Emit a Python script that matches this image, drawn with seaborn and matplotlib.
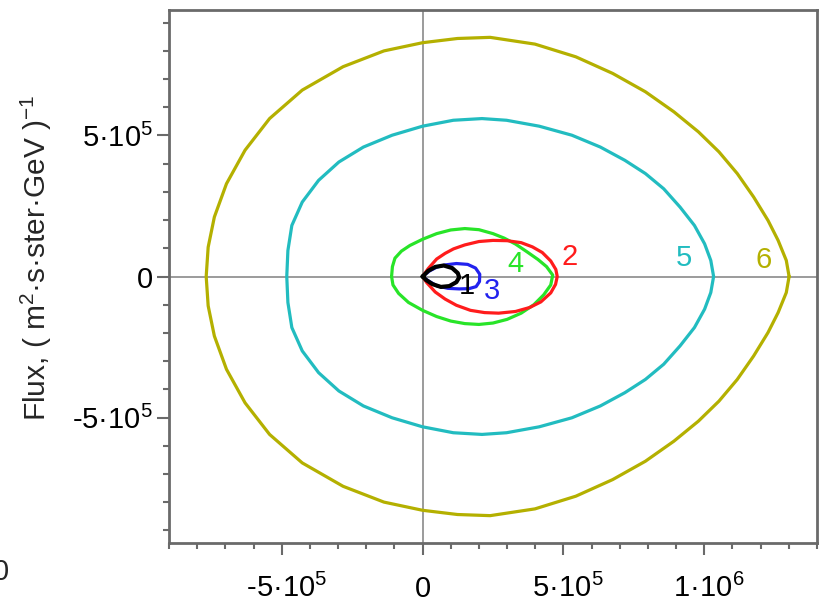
import matplotlib
matplotlib.use("Agg")
import matplotlib.pyplot as plt
from matplotlib.ticker import FixedLocator, MultipleLocator
import pandas as pd
import seaborn as sns

# All curve coordinates are given in units of 1e5.
SCALE = 1e5

# Curve 6: upper half, from the right tip round to the left tip
c6_x = [13.01, 12.91, 12.62, 12.26, 11.75, 11.17, 10.52, 9.79, 8.92, 7.91, 6.75,
        5.44, 3.99, 2.40, 1.24, 0.00, -1.37, -2.82, -4.27, -5.43, -6.30, -6.96,
        -7.39, -7.61, -7.68]
c6_y = [0.00, 0.57, 1.28, 1.99, 2.82, 3.65, 4.42, 5.13, 5.84, 6.55, 7.20,
        7.79, 8.24, 8.48, 8.44, 8.29, 8.00, 7.44, 6.61, 5.60, 4.48, 3.29,
        2.11, 1.04, 0.00]

# Curve 5: upper half, from the right tip round to the left tip
c5_x = [10.33, 10.23, 10.01, 9.65, 9.14, 8.56, 7.91, 7.18, 6.31, 5.30, 4.14,
        2.98, 2.11, 1.09, 0.00, -1.08, -2.10, -2.97, -3.69, -4.27, -4.64,
        -4.78, -4.82]
c5_y = [0.00, 0.57, 1.16, 1.81, 2.46, 3.11, 3.65, 4.12, 4.59, 5.01, 5.33,
        5.54, 5.60, 5.54, 5.33, 5.01, 4.59, 4.06, 3.41, 2.64, 1.81, 0.92, 0.00]

# Curve 4: full loop
c4_x = [-1.10, -1.07, -0.98, -0.75, -0.45, 0.00, 0.50, 1.00, 1.50, 2.00, 2.50,
        2.90, 3.30, 3.70, 4.10, 4.40, 4.62, 4.55, 4.30, 3.95, 3.50, 3.00, 2.50,
        2.00, 1.50, 1.00, 0.50, 0.00, -0.50, -0.85, -1.05, -1.10]
c4_y = [0.00, 0.35, 0.65, 0.90, 1.10, 1.32, 1.52, 1.65, 1.70, 1.66, 1.52,
        1.36, 1.15, 0.88, 0.60, 0.35, 0.05, -0.30, -0.65, -1.00, -1.30, -1.52,
        -1.65, -1.70, -1.67, -1.58, -1.42, -1.20, -0.92, -0.60, -0.30, 0.00]

# Curve 2: full loop
c2_x = [0.00, 0.20, 0.50, 0.80, 1.10, 1.50, 2.00, 2.50, 3.00, 3.50, 3.90, 4.25,
        4.55, 4.73, 4.78, 4.72, 4.55, 4.20, 3.80, 3.30, 2.70, 2.20, 1.70, 1.20,
        0.80, 0.45, 0.15, 0.00]
c2_y = [0.00, 0.28, 0.62, 0.82, 0.98, 1.12, 1.24, 1.28, 1.27, 1.20, 1.05, 0.85,
        0.55, 0.25, 0.00, -0.28, -0.58, -0.90, -1.10, -1.24, -1.30, -1.28, -1.20,
        -1.02, -0.80, -0.55, -0.22, 0.00]

# Curve 3: full loop
c3_x = [0.00, 0.25, 0.50, 0.80, 1.20, 1.60, 1.88, 2.03, 2.02, 1.90, 1.65, 1.30,
        0.90, 0.50, 0.20, 0.00]
c3_y = [0.00, 0.20, 0.33, 0.41, 0.46, 0.43, 0.30, 0.08, -0.18, -0.36, -0.43,
        -0.44, -0.42, -0.33, -0.15, 0.00]

# Curve 1: full loop
c1_x = [0.00, 0.20, 0.45, 0.75, 1.05, 1.25, 1.30, 1.20, 0.95, 0.65, 0.35, 0.12, 0.00]
c1_y = [0.00, 0.20, 0.34, 0.39, 0.30, 0.12, -0.03, -0.20, -0.34, -0.37, -0.27, -0.12, 0.00]

curve_names = ["6", "5", "4", "2", "3", "1"]
curve_colors = {"6": "#b4b000", "5": "#22bcc0", "4": "#28e428",
                "2": "#ff1c1c", "3": "#2222ee", "1": "#000000"}
curve_widths = {"6": 2.3, "5": 2.3, "4": 2.3, "2": 2.3, "3": 2.3, "1": 3.0}

# Curve number labels (units of 1e5)
label_names = ["1", "3", "4", "2", "5", "6"]
label_x = [1.58, 2.45, 3.31, 5.23, 9.28, 12.09]
label_y = [-0.32, -0.53, 0.45, 0.69, 0.66, 0.59]

x_limits = [-9e5, 14e5]
y_limits = [-9.45e5, 9.45e5]
x_ticks = [-5e5, 0, 5e5, 1e6]
x_tick_labels = ["$\\:\\,$-5·10$^5$", "0", "$\\:\\,$5·10$^5$", "$\\:\\,$1·10$^6$"]
y_ticks = [-5e5, 0, 5e5]
y_tick_labels = ["-5·10$^5$", "0$\\enspace\\,$", "5·10$^5$"]
minor_step = 1e5


def mirrored(ux, uy):
    xs = list(ux) + list(ux[::-1][1:])
    ys = list(uy) + [-v for v in uy[::-1][1:]]
    return xs, ys


loops = {
    "6": mirrored(c6_x, c6_y),
    "5": mirrored(c5_x, c5_y),
    "4": (c4_x, c4_y),
    "2": (c2_x, c2_y),
    "3": (c3_x, c3_y),
    "1": (c1_x, c1_y),
}

frames = []
for name in curve_names:
    xs, ys = loops[name]
    frames.append(pd.DataFrame({"x": [v * SCALE for v in xs],
                                "y": [v * SCALE for v in ys],
                                "curve": name}))
df = pd.concat(frames, ignore_index=True)

sns.set_style("ticks")
plt.rcParams["font.family"] = ["Liberation Sans", "DejaVu Sans"]
plt.rcParams["mathtext.fontset"] = "custom"
plt.rcParams["mathtext.rm"] = "Liberation Sans"
plt.rcParams["mathtext.it"] = "Liberation Sans:italic"
plt.rcParams["mathtext.bf"] = "Liberation Sans:bold"

FS = 21
spine_color = "#6a6a6a"
major_len = 8.5

fig = plt.figure(figsize=(8.26, 6.04), dpi=100)
ax = fig.add_axes([169 / 826, 61 / 604, 648 / 826, 533 / 604])

ax.axhline(0, color="#8a8a8a", lw=1.2, zorder=1)
ax.axvline(0, color="#8a8a8a", lw=1.2, zorder=1)

for name in curve_names:
    sub = df[df["curve"] == name]
    sns.lineplot(data=sub, x="x", y="y", sort=False, estimator=None,
                 color=curve_colors[name], linewidth=curve_widths[name],
                 solid_joinstyle="round", solid_capstyle="round",
                 ax=ax, legend=False, zorder=3)

for name, lx, ly in zip(label_names, label_x, label_y):
    ax.text(lx * SCALE, ly * SCALE, name, color=curve_colors[name],
            fontsize=FS, ha="center", va="center", zorder=4)

ax.set_xlim(*x_limits)
ax.set_ylim(*y_limits)
ax.xaxis.set_major_locator(FixedLocator(x_ticks))
ax.yaxis.set_major_locator(FixedLocator(y_ticks))
ax.xaxis.set_minor_locator(MultipleLocator(minor_step))
ax.yaxis.set_minor_locator(MultipleLocator(minor_step))
ax.set_xticklabels(x_tick_labels)
ax.set_yticklabels(y_tick_labels)

ax.tick_params(which="both", direction="out", color=spine_color, width=1.5,
               top=False, right=False, labelsize=FS, labelcolor="black")
ax.tick_params(which="major", length=major_len)
ax.tick_params(which="minor", length=4.5)
# x labels sit on a common baseline near the bottom edge
ax.tick_params(axis="x", which="major", pad=(54 * 0.72) - major_len)
ax.tick_params(axis="y", which="major", pad=3)
for lab in ax.get_xticklabels():
    lab.set_verticalalignment("baseline")

for sp in ax.spines.values():
    sp.set_color(spine_color)
    sp.set_linewidth(2.0)
    sp.set_visible(True)

ax.set_xlabel("")
ax.set_ylabel("")
fig.text(36 / 826, 1 - 257.5 / 604, "Flux, ( m$^2$·s·ster·GeV )$^{-1}$",
         rotation=90, ha="center", va="center", fontsize=21.5)

# partial tick label of a neighbouring panel at the lower-left edge
fig.text(1 / 826, 1 - 580 / 604, "0", ha="center", va="baseline", fontsize=FS)

fig.savefig("out.png", dpi=100)
